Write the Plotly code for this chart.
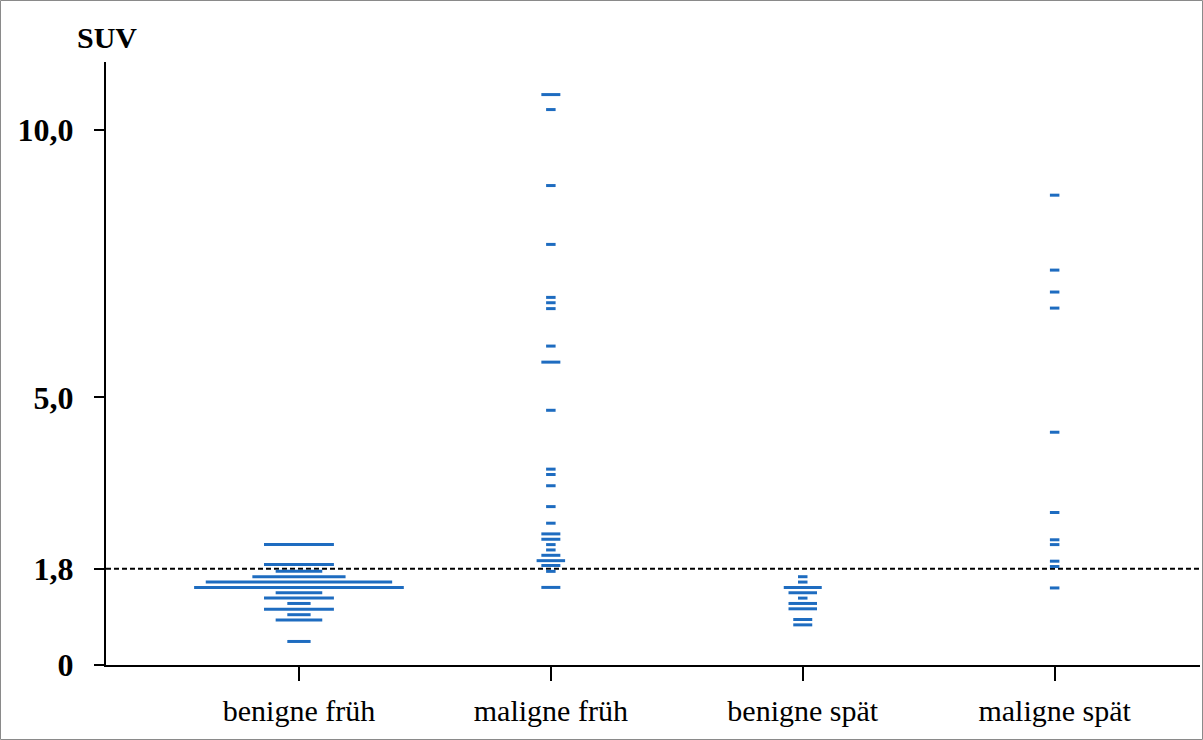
import plotly.graph_objects as go

# ---- data (SUV values and number of lesions stacked at each value) ----
categories = ["benigne früh", "maligne früh", "benigne spät", "maligne spät"]

benigne_frueh_suv = [2.25, 1.88, 1.75, 1.65, 1.55, 1.45, 1.35, 1.25, 1.15, 1.04, 0.94, 0.84, 0.44]
benigne_frueh_n   = [3, 3, 2, 4, 8, 9, 2, 3, 1, 3, 1, 2, 1]

maligne_frueh_suv = [10.66, 10.38, 8.96, 7.86, 6.87, 6.77, 6.66, 5.96, 5.66, 4.76, 3.66, 3.56,
                     3.35, 2.96, 2.65, 2.45, 2.35, 2.25, 2.15, 2.05, 1.95, 1.86, 1.75, 1.45]
maligne_frueh_n   = [2, 1, 1, 1, 1, 1, 1, 1, 2, 1, 1, 1,
                     1, 1, 1, 2, 2, 1, 1, 2, 3, 2, 1, 2]

benigne_spaet_suv = [1.65, 1.55, 1.45, 1.35, 1.25, 1.15, 1.05, 0.85, 0.75]
benigne_spaet_n   = [1, 1, 4, 3, 1, 3, 3, 2, 2]

maligne_spaet_suv = [8.78, 7.38, 6.97, 6.67, 4.35, 2.85, 2.34, 2.25, 1.94, 1.84, 1.44]
maligne_spaet_n   = [1, 1, 1, 1, 1, 1, 1, 1, 1, 1, 1]

threshold = 1.8
y_tickvals = [0, 1.8, 5, 10]
y_ticktext = ["0", "1,8", "5,0", "10,0"]

# ---- styling ----
BLUE = "#1e6cc0"
FONT = "Liberation Serif"
dash_unit_px = [23.3, 9.5, 9.5, 9.5]   # width of one stacked symbol per group

groups = [
    (benigne_frueh_suv, benigne_frueh_n),
    (maligne_frueh_suv, maligne_frueh_n),
    (benigne_spaet_suv, benigne_spaet_n),
    (maligne_spaet_suv, maligne_spaet_n),
]

fig = go.Figure()
for i, (vals, counts) in enumerate(groups):
    fig.add_trace(go.Scatter(
        x=[i] * len(vals),
        y=vals,
        mode="markers",
        marker=dict(
            symbol="line-ew",
            size=[c * dash_unit_px[i] / 1.4 for c in counts],
            color=BLUE,
            opacity=1,
            line=dict(color=BLUE, width=3),
        ),
        showlegend=False,
        hoverinfo="y",
        name=categories[i],
    ))

# reference line
fig.add_shape(type="line", xref="paper", yref="y", x0=0, x1=1, y0=threshold, y1=threshold,
              line=dict(color="black", width=2, dash="5px,3px"), layer="below")

# outer grey frame
W, H = 1203, 740
L, R, T, B = 106, 3, 62, 75
pw, ph = W - L - R, H - T - B
fig.add_shape(type="rect", xref="paper", yref="paper",
              x0=(0.5 - L) / pw, x1=(W - 0.5 - L) / pw,
              y0=(H - B - (H - 0.5)) / ph, y1=(H - B - 0.5) / ph,
              line=dict(color="#8a8a8a", width=1))

fig.add_annotation(text="<b>SUV</b>", xref="paper", yref="paper",
                   x=(107 - L) / pw, y=(H - B - 38) / ph, showarrow=False,
                   xanchor="center", yanchor="middle",
                   font=dict(family=FONT, size=30, color="black"))

fig.update_layout(
    width=W, height=H,
    margin=dict(l=L, r=R, t=T, b=B),
    paper_bgcolor="white", plot_bgcolor="white",
    xaxis=dict(
        range=[-0.766, 3.577],
        tickvals=list(range(len(categories))), ticktext=categories,
        showline=True, linecolor="black", linewidth=2,
        ticks="outside", ticklen=14, tickwidth=1.5, tickcolor="black",
        showgrid=False, zeroline=False,
        tickfont=dict(family=FONT, size=30, color="black"),
        ticklabelstandoff=4,
    ),
    yaxis=dict(
        range=[0, 603 / 53.51],
        tickvals=y_tickvals, ticktext=y_ticktext,
        showline=True, linecolor="black", linewidth=2,
        ticks="outside", ticklen=10, tickwidth=1.5, tickcolor="black",
        showgrid=False, zeroline=False,
        tickfont=dict(family=FONT, size=32, color="black", weight="bold"),
        ticklabelstandoff=14,
    ),
)

fig.write_html("out.html", config={"displayModeBar": False},
               post_script="document.body.style.margin='0px';")
